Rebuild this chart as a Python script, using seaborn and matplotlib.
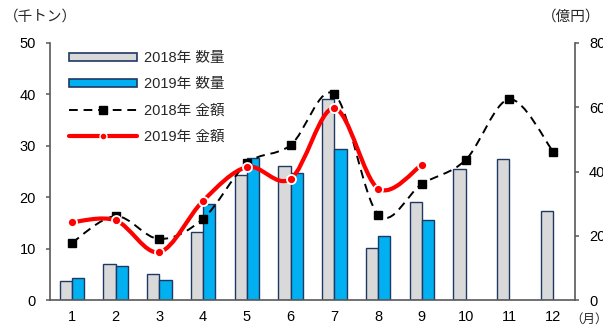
import numpy as np
import pandas as pd
import matplotlib
matplotlib.use("Agg")
import matplotlib.pyplot as plt
from matplotlib.path import Path
from matplotlib.patches import PathPatch, Patch
from matplotlib.lines import Line2D
from matplotlib.ticker import FixedLocator
import seaborn as sns

# Monthly volume (thousand tonnes) and value (100 million yen)
months = ["1", "2", "3", "4", "5", "6", "7", "8", "9", "10", "11", "12"]
qty_2018 = [3.6, 7.1, 5.1, 13.2, 24.4, 26.0, 39.1, 10.1, 19.0, 25.5, 27.4, 17.4]
qty_2019 = [4.3, 6.7, 3.9, 18.6, 27.7, 24.8, 29.4, 12.4, 15.5, np.nan, np.nan, np.nan]
amt_2018 = [17.8, 26.1, 19.0, 25.3, 42.5, 48.2, 64.1, 26.6, 36.1, 43.6, 62.5, 46.2]
amt_2019 = [24.2, 24.8, 14.9, 30.9, 41.4, 37.7, 59.7, 34.7, 42.1]

lbl_q18, lbl_q19 = "2018年 数量", "2019年 数量"
lbl_a18, lbl_a19 = "2018年 金額", "2019年 金額"

GRAY, BLUE, NAVY, RED, AXC = "#D9D9D9", "#00B0F0", "#1F3864", "#FF0000", "#595959"
FS = 10.5

sns.set_style("white")
plt.rcParams["font.family"] = ["Liberation Sans", "Noto Sans CJK JP", "DejaVu Sans"]

fig = plt.figure(figsize=(6.03, 3.26), dpi=100)
W, H = 603, 326
ax = fig.add_axes([50 / W, 1 - 300 / H, 525 / W, 257 / H])

df = pd.DataFrame({
    "month": months * 2,
    "qty": qty_2018 + qty_2019,
    "series": [lbl_q18] * 12 + [lbl_q19] * 12,
})
sns.barplot(data=df, x="month", y="qty", hue="series", order=months,
            hue_order=[lbl_q18, lbl_q19], palette=[GRAY, BLUE],
            width=0.56, edgecolor=NAVY, linewidth=1.0, saturation=1,
            legend=False, ax=ax)

ax.set_xlim(-0.5, 11.5)
ax.set_ylim(0, 50)
ax.set_yticks([0, 10, 20, 30, 40, 50])
ax.set_xlabel("")
ax.set_ylabel("")

ax2 = ax.twinx()
ax2.set_ylim(0, 80)
ax2.set_yticks([0, 20, 40, 60, 80])


def smooth_path(xs, ys):
    """Bezier path through the points, Excel-style smoothing."""
    pts = np.column_stack([xs, ys]).astype(float)
    n = len(pts)
    verts = [pts[0]]
    codes = [Path.MOVETO]
    for i in range(n - 1):
        p0 = pts[i - 1] if i > 0 else pts[i]
        p1 = pts[i]
        p2 = pts[i + 1]
        p3 = pts[i + 2] if i + 2 < n else pts[i + 1]
        c1 = p1 + (p2 - p0) / 6.0
        c2 = p2 - (p3 - p1) / 6.0
        verts += [c1, c2, p2]
        codes += [Path.CURVE4] * 3
    return Path(verts, codes)


x18 = np.arange(len(amt_2018))
x19 = np.arange(len(amt_2019))

ax2.add_patch(PathPatch(smooth_path(x18, amt_2018), fill=False, edgecolor="black",
                        linewidth=1.4, linestyle=(0, (4.5, 3)), zorder=3))
ax2.plot(x18, amt_2018, linestyle="none", marker="s", markersize=6,
         color="black", zorder=4)
ax2.add_patch(PathPatch(smooth_path(x19, amt_2019), fill=False, edgecolor=RED,
                        linewidth=3.0, capstyle="round", zorder=5))
ax2.plot(x19, amt_2019, linestyle="none", marker="o", markersize=6.5,
         markerfacecolor=RED, markeredgecolor="white", markeredgewidth=1.3, zorder=6)

# Axes styling
for a in (ax, ax2):
    a.spines["top"].set_visible(False)
    for s in ("left", "right", "bottom"):
        a.spines[s].set_color(AXC)
        a.spines[s].set_linewidth(1.2)
ax.spines["right"].set_visible(False)
ax2.spines["left"].set_visible(False)
ax2.spines["bottom"].set_visible(False)

ax.tick_params(axis="y", direction="out", length=3, width=1.1, color=AXC,
               pad=7, labelsize=FS, labelcolor="black")
ax2.tick_params(axis="y", direction="out", length=3, width=1.1, color=AXC,
                pad=7, labelsize=FS, labelcolor="black")
ax.tick_params(axis="x", which="major", length=0, pad=7, labelsize=FS,
               labelcolor="black")
ax.xaxis.set_minor_locator(FixedLocator(np.arange(-0.5, 12, 1.0)))
ax.tick_params(axis="x", which="minor", direction="out", length=4, width=1.1,
               color=AXC)

# Unit labels
fig.text(4 / W, 1 - 17 / H, "（千トン）", fontsize=FS, va="center", ha="left")
fig.text(600 / W, 1 - 17 / H, "（億円）", fontsize=FS, va="center", ha="right")
fig.text(570 / W, 1 - 320 / H, "（月）", fontsize=9, va="center", ha="left")

handles = [
    Patch(facecolor=GRAY, edgecolor=NAVY, linewidth=1.2),
    Patch(facecolor=BLUE, edgecolor=NAVY, linewidth=1.2),
    Line2D([], [], color="black", linewidth=1.4, linestyle=(0, (4.5, 3)),
           marker="s", markersize=6),
    Line2D([], [], color=RED, linewidth=3.0, marker="o", markersize=5,
           markerfacecolor=RED, markeredgecolor="white", markeredgewidth=1.0),
]
ax2.legend(handles, [lbl_q18, lbl_q19, lbl_a18, lbl_a19], loc="upper left",
           bbox_to_anchor=(19 / 525, 1 - 8 / 257), frameon=False, fontsize=FS,
           handlelength=4.65, handleheight=0.5, handletextpad=0.5,
           labelspacing=0.84, borderpad=0, borderaxespad=0)

fig.savefig("out.png", dpi=100)
